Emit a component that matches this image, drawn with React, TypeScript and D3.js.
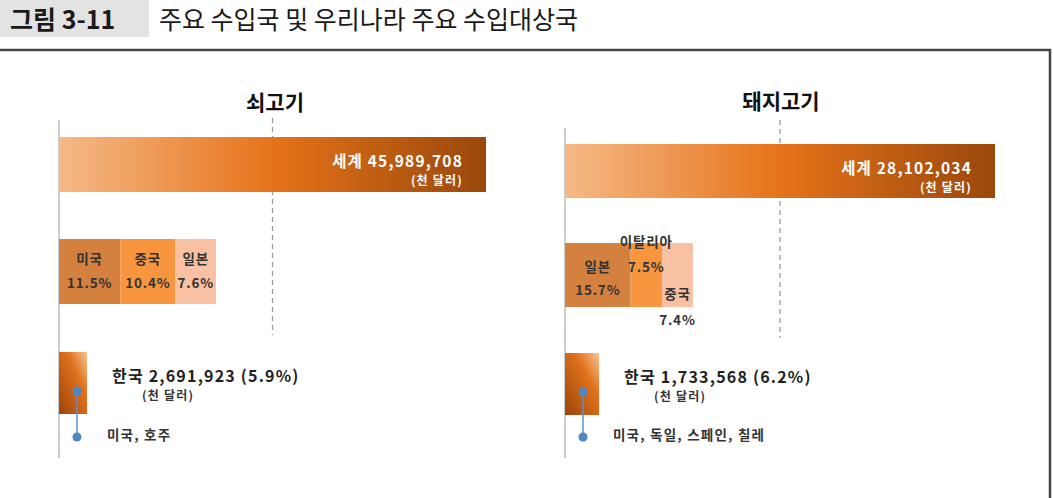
import React from 'react';
import * as d3 from 'd3';

// chart values
const panelTitles = ['쇠고기', '돼지고기'];
const worldValues = [45989708, 28102034];
const koreaValues = [2691923, 1733568];
const koreaShares = [5.9, 6.2];
const topCountries = [['미국', '중국', '일본'], ['일본', '이탈리아', '중국']];
const topShares = [[11.5, 10.4, 7.6], [15.7, 7.5, 7.4]];
const koreaSources = ['미국, 호주', '미국, 독일, 스페인, 칠레'];
const unitLabel = '(천 달러)';

const stackColors = ['#d4803f', '#f7963f', '#f9c1a3'];
const font = '"Noto Sans CJK KR", "Noto Sans", sans-serif';

// per panel layout (pixel placement of the infographic)
const layout = [
  { x0: 59, worldW: 427, shareW: 532, koreaW: 475, worldY: 137, worldH: 55, stackY: 239, stackH: 65,
    koreaY: 352, koreaH: 62, axisTop: 120, dashTop: 118, dashBottom: 335, titleX: 275, titleY: 110,
    labelDy: [[19, 43], [19, 43], [19, 43]], dotY: [391, 437] },
  { x0: 565, worldW: 430, shareW: 418, koreaW: 550, worldY: 144, worldH: 54, stackY: 243, stackH: 64,
    koreaY: 353, koreaH: 62, axisTop: 128, dashTop: 120, dashBottom: 338, titleX: 781, titleY: 109,
    labelDy: [[23, 46], [-2, 23], [50, 76]], dotY: [392, 437] },
];

const fmt = d3.format(',');

function Panel({ i }: { i: number }) {
  const L = layout[i];
  const xWorld = d3.scaleLinear().domain([0, worldValues[i]]).range([L.x0, L.x0 + L.worldW]);
  const xShare = d3.scaleLinear().domain([0, 100]).range([L.x0, L.x0 + L.shareW]);
  const xKorea = d3.scaleLinear().domain([0, 100]).range([L.x0, L.x0 + L.koreaW]);
  const shares = topShares[i];
  const ends = Array.from(d3.cumsum(shares));
  const starts = ends.map((e, k) => e - shares[k]);
  const worldEnd = xWorld(worldValues[i]);
  const koreaEnd = xKorea(koreaShares[i]);
  const dashX = xWorld(worldValues[i] / 2);
  const dotX = L.x0 + 18;
  const koreaLabelX = koreaEnd + 25;

  return (
    <g>
      <text x={L.titleX} y={L.titleY} textAnchor="middle" fontSize={21} fontWeight={700} fill="#111">
        {panelTitles[i]}
      </text>
      <line x1={L.x0} x2={L.x0} y1={L.axisTop} y2={458} stroke="#bdbdbd" strokeWidth={1.5} />
      <line x1={dashX} x2={dashX} y1={L.dashTop} y2={L.dashBottom} stroke="#9a9a9a" strokeWidth={1.3} strokeDasharray="5,4" />

      <rect x={xWorld(0)} y={L.worldY} width={worldEnd - xWorld(0)} height={L.worldH} fill="url(#worldGrad)" />
      <text x={worldEnd - 23} y={L.worldY + 30} textAnchor="end" fontSize={15.5} fontWeight={700} fill="#fff" letterSpacing={1.2}>
        {`세계 ${fmt(worldValues[i])}`}
      </text>
      <text x={worldEnd - 23} y={L.worldY + 48} textAnchor="end" fontSize={12} fontWeight={700} fill="#fff" letterSpacing={1.2}>
        {unitLabel}
      </text>

      {shares.map((s, k) => {
        const xa = xShare(starts[k]);
        const xb = xShare(ends[k]);
        return <rect key={k} x={xa} y={L.stackY} width={xb - xa} height={L.stackH} fill={stackColors[k]} />;
      })}
      {shares.map((s, k) => {
        const cx = (xShare(starts[k]) + xShare(ends[k])) / 2;
        return (
          <g key={'t' + k} fontSize={13.5} fontWeight={700} fill="#333" textAnchor="middle" letterSpacing={0.8}>
            <text x={cx} y={L.stackY + L.labelDy[k][0]} dominantBaseline="central">{topCountries[i][k]}</text>
            <text x={cx} y={L.stackY + L.labelDy[k][1]} dominantBaseline="central">{`${s}%`}</text>
          </g>
        );
      })}

      <rect x={xKorea(0)} y={L.koreaY} width={koreaEnd - xKorea(0)} height={L.koreaH} fill="url(#koreaGrad)" />
      <line x1={dotX} x2={dotX} y1={L.dotY[0]} y2={L.dotY[1]} stroke="#5a8fcf" strokeWidth={1.5} />
      <circle cx={dotX} cy={L.dotY[0]} r={4.5} fill="#4f86c6" />
      <circle cx={dotX} cy={L.dotY[1]} r={4.5} fill="#4f86c6" />
      <text x={koreaLabelX} y={L.koreaY + 30} fontSize={16} fontWeight={700} fill="#222" letterSpacing={1.2}>
        {`한국 ${fmt(koreaValues[i])} (${koreaShares[i]}%)`}
      </text>
      <text x={koreaLabelX + 30} y={L.koreaY + 48} fontSize={12} fontWeight={700} fill="#333" letterSpacing={1.2}>
        {unitLabel}
      </text>
      <text x={dotX + 30} y={L.dotY[1] - 3} dominantBaseline="central" fontSize={13.5} fontWeight={700} fill="#333" letterSpacing={1.2}>
        {koreaSources[i]}
      </text>
    </g>
  );
}

export default function App() {
  return (
    <svg width={1053} height={498} style={{ position: 'absolute', left: 0, top: 0, background: '#fff' }} fontFamily={font}>
      <defs>
        <linearGradient id="worldGrad" x1="0" y1="0" x2="1" y2="0">
          <stop offset="0" stopColor="#f6b986" />
          <stop offset="0.5" stopColor="#e6731a" />
          <stop offset="1" stopColor="#9a480c" />
        </linearGradient>
        <linearGradient id="koreaGrad" x1="1" y1="0" x2="0" y2="1">
          <stop offset="0" stopColor="#f7c595" />
          <stop offset="0.35" stopColor="#e0731e" />
          <stop offset="1" stopColor="#9c4408" />
        </linearGradient>
      </defs>
      <rect x={0} y={0} width={149} height={37} fill="#e3e3e3" />
      <text x={10} y={29} fontSize={25} fontWeight={700} fill="#1a1a1a">그림 3-11</text>
      <text x={159} y={29} fontSize={25} fontWeight={400} fill="#1a1a1a">주요 수입국 및 우리나라 주요 수입대상국</text>
      <line x1={0} x2={1051} y1={50} y2={50} stroke="#444" strokeWidth={2.5} />
      <line x1={1050} x2={1050} y1={50} y2={498} stroke="#444" strokeWidth={2.5} />
      <Panel i={0} />
      <Panel i={1} />
    </svg>
  );
}
